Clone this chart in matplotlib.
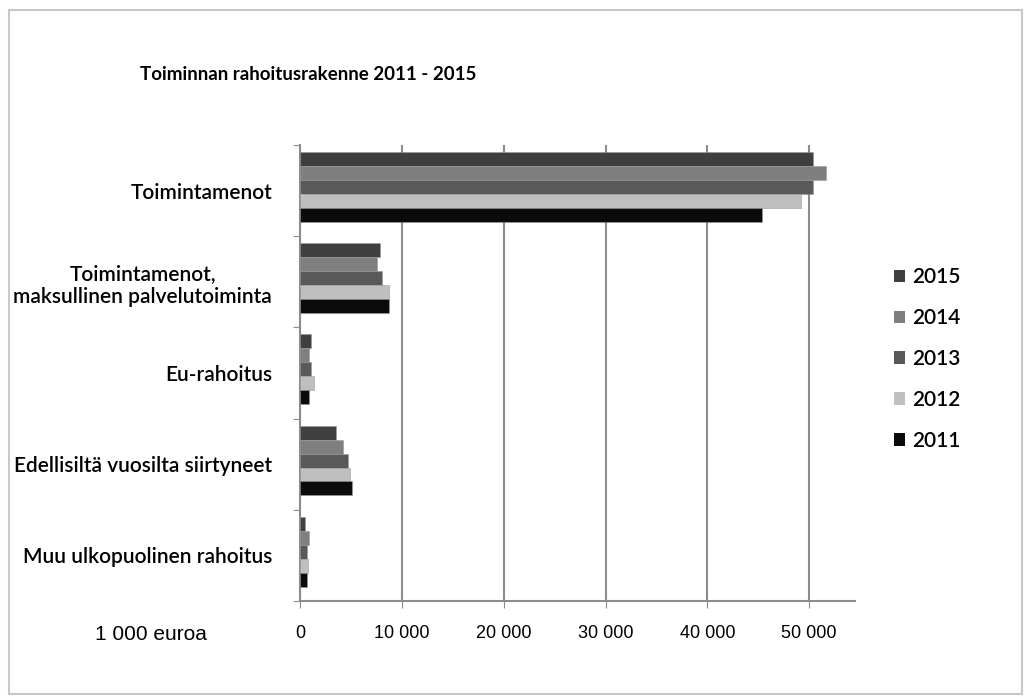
import numpy as np
import matplotlib
matplotlib.use("Agg")
from matplotlib import pyplot as plt
from matplotlib.patches import Rectangle, Patch

# data, 1 000 euroa
categories = ["Toimintamenot",
              "Toimintamenot,\nmaksullinen palvelutoiminta",
              "Eu-rahoitus",
              "Edellisiltä vuosilta siirtyneet",
              "Muu ulkopuolinen rahoitus"]
years = ["2015", "2014", "2013", "2012", "2011"]
v2015 = [50350, 7870, 1060, 3560, 540]
v2014 = [51700, 7540, 840, 4210, 930]
v2013 = [50350, 8060, 1060, 4740, 670]
v2012 = [49150, 8720, 1360, 4900, 750]
v2011 = [45400, 8720, 870, 5100, 710]
xticks = [0, 10000, 20000, 30000, 40000, 50000]
xticklabels = ["0", "10 000", "20 000", "30 000", "40 000", "50 000"]

colors = ["#3f3f3f", "#7f7f7f", "#595959", "#bfbfbf", "#0b0b0b"]
series = [v2015, v2014, v2013, v2012, v2011]

LABEL_FONT = ["Lato", "DejaVu Sans"]
TICK_FONT = ["Liberation Sans", "DejaVu Sans"]

fig = plt.figure(figsize=(10.31, 6.97), dpi=100)
fig.patches.append(Rectangle((9 / 1031, 3 / 697), 1013 / 1031, 684 / 697,
                             transform=fig.transFigure, fill=False,
                             edgecolor="#c8c8c8", linewidth=1.5))

ax = fig.add_axes([300 / 1031, 1 - 601 / 697, 555 / 1031, 456 / 697])

y = np.arange(len(categories))
h = 0.153
for i, (vals, col) in enumerate(zip(series, colors)):
    ax.barh(y + (i - 2) * h - 0.04, vals, height=h, color=col,
            edgecolor="#9a9a9a", linewidth=0.4, label=years[i], zorder=3)

ax.set_ylim(len(categories) - 0.5, -0.5)
ax.set_xlim(0, 54500)

ax.set_xticks(xticks)
ax.set_xticklabels(xticklabels, family=TICK_FONT, fontsize=13)
ax.xaxis.grid(True, color="#8c8c8c", linewidth=1.5, zorder=0)
ax.tick_params(axis="x", direction="out", length=5, color="#8c8c8c", pad=12)

ax.set_yticks(np.arange(-0.5, len(categories), 1))
ax.set_yticklabels([])
ax.set_yticks(y, minor=True)
ax.set_yticklabels(categories, minor=True, family=LABEL_FONT, fontsize=15,
                   fontweight="semibold", ha="right", multialignment="center")
ax.tick_params(axis="y", which="major", direction="out", length=5, color="#8c8c8c")
ax.tick_params(axis="y", which="minor", length=0, pad=20)

for s in ["top", "right"]:
    ax.spines[s].set_visible(False)
for s in ["left", "bottom"]:
    ax.spines[s].set_color("#8c8c8c")
    ax.spines[s].set_linewidth(1.5)

fig.text(140 / 1031, 1 - 75 / 697, "Toiminnan rahoitusrakenne 2011 - 2015",
         family=LABEL_FONT, fontsize=13.5, fontweight="bold", va="center", ha="left")
fig.text(95 / 1031, 1 - 634 / 697, "1 000 euroa", family=TICK_FONT,
         fontsize=15, va="center", ha="left")

handles = [Patch(facecolor=c, label=yr) for c, yr in zip(colors, years)]
fig.legend(handles=handles, loc="center left",
           bbox_to_anchor=(875 / 1031, 1 - 359 / 697), frameon=False,
           prop={"family": LABEL_FONT, "size": 15, "weight": "semibold"},
           handlelength=0.55, handleheight=0.55, handletextpad=0.35,
           labelspacing=1.0)

plt.savefig("out.png", dpi=100)
